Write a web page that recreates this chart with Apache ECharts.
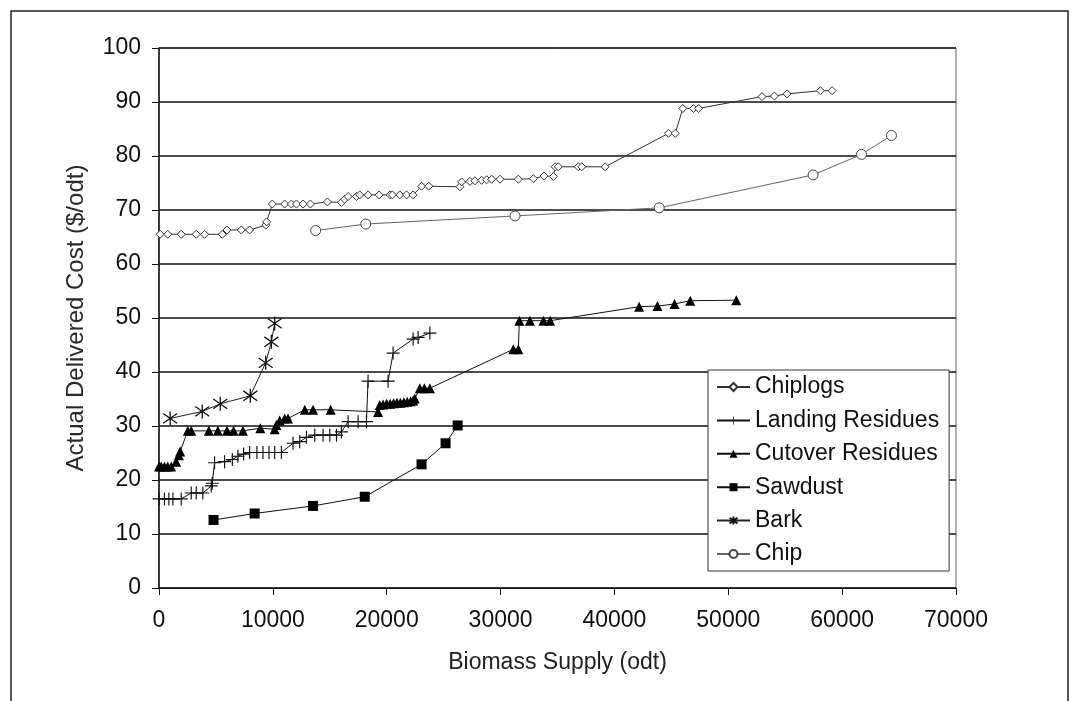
<!DOCTYPE html>
<html>
<head>
<meta charset="utf-8">
<script src="https://cdn.jsdelivr.net/npm/echarts@6/dist/echarts.min.js"></script>
<style>
  html, body { margin: 0; padding: 0; background: #fff; }
  #chart { width: 1078px; height: 701px; }
</style>
</head>
<body>
<div id="chart"></div>
<script>
// supply (odt) and delivered cost ($/odt) per source
var chiplogsX = [100, 770, 1950, 3270, 4000, 5560, 5970, 7230, 7960, 9380, 9450, 9950, 11040, 11630, 12070, 12650, 13300,
  14790, 16020, 16300, 16610, 17340, 17630, 18360, 19330, 20300, 20500, 21150, 21740, 22320, 23060, 23700,
  26430, 26580, 27310, 27750, 28340, 28780, 29220, 29950, 31560, 32880, 33820, 34640, 34790, 35070,
  36830, 37130, 39180, 44750, 45340, 46010, 46950, 47390, 52960, 54050, 55160, 58090, 59120];
var chiplogsY = [65.5, 65.5, 65.5, 65.5, 65.5, 65.5, 66.3, 66.3, 66.3, 67.2, 67.8, 71.1, 71.1, 71.1, 71.1, 71.1, 71.1,
  71.5, 71.4, 72.0, 72.5, 72.5, 72.8, 72.8, 72.8, 72.8, 72.8, 72.8, 72.8, 72.8, 74.4, 74.4,
  74.3, 75.2, 75.3, 75.4, 75.5, 75.6, 75.7, 75.7, 75.7, 75.8, 76.3, 76.2, 78.0, 78.0,
  78.0, 78.0, 78.0, 84.2, 84.2, 88.8, 88.8, 88.8, 91.0, 91.1, 91.5, 92.1, 92.1];

var landingX = [0, 480, 870, 1220, 1950, 2830, 3270, 3850, 4590, 4680, 4880, 5760, 6440, 6930, 7430, 7960, 8600,
  9130, 9660, 10160, 10750, 11770, 12360, 12950, 13680, 14410, 15000, 15590, 16020, 16610, 17490, 18220,
  18360, 20120, 20560, 22320, 22760, 23790];
var landingY = [16.5, 16.5, 16.5, 16.5, 16.5, 17.6, 17.6, 17.6, 18.9, 19.4, 23.2, 23.4, 23.8, 24.4, 24.8, 25.1, 25.1,
  25.1, 25.1, 25.1, 25.1, 26.8, 27.1, 27.9, 28.3, 28.3, 28.3, 28.3, 28.9, 30.8, 30.8, 30.8,
  38.3, 38.3, 43.5, 46.1, 46.4, 47.2];

var cutoverX = [0, 190, 480, 770, 1070, 1510, 1740, 1860, 2530, 2830, 4380, 5170, 5970, 6550, 7370, 8900, 10160,
  10310, 10600, 11040, 11330, 12800, 13530, 15080, 19240, 19390, 19680, 20000, 20300, 20600, 20900, 21200,
  21500, 21800, 22100, 22320, 22470, 22910, 23300, 23790, 31120, 31560, 31650, 32580, 33760, 34350,
  42170, 43780, 45280, 46660, 50700];
var cutoverY = [22.5, 22.5, 22.5, 22.5, 22.5, 23.4, 24.6, 25.3, 29.1, 29.1, 29.1, 29.1, 29.1, 29.1, 29.1, 29.6, 29.4,
  30.2, 31.0, 31.4, 31.4, 33.0, 33.0, 33.0, 32.6, 33.9, 34.0, 34.1, 34.1, 34.2, 34.3, 34.3,
  34.4, 34.5, 34.6, 34.7, 35.1, 37.0, 37.0, 37.0, 44.2, 44.2, 49.5, 49.5, 49.5, 49.5,
  52.1, 52.2, 52.6, 53.2, 53.3];

var sawdustX = [4790, 8400, 13530, 18070, 23060, 25170, 26230];
var sawdustY = [12.6, 13.8, 15.2, 16.9, 22.9, 26.8, 30.1];

var barkX = [980, 3800, 5380, 8020, 9370, 9870, 10160];
var barkY = [31.4, 32.7, 34.1, 35.6, 41.7, 45.6, 49.0];

var chipX = [13760, 18160, 31270, 43930, 57450, 61700, 64330];
var chipY = [66.2, 67.4, 68.9, 70.4, 76.5, 80.3, 83.8];

var seriesNames = ['Chiplogs', 'Landing Residues', 'Cutover Residues', 'Sawdust', 'Bark', 'Chip'];

function pairs(xs, ys) {
  return xs.map(function (x, i) { return [x, ys[i]]; });
}

var FONT = 'Liberation Sans, Arial, sans-serif';
var plusPath = 'path://M-0.09,-1H0.09V-0.09H1V0.09H0.09V1H-0.09V0.09H-1V-0.09H-0.09Z';
var starPath = 'path://M0,-1L0,1M-0.8,-0.7L0.8,0.7M-0.8,0.7L0.8,-0.7';

var myChart = echarts.init(document.getElementById('chart'));
var option = {
  animation: false,
  backgroundColor: '#fff',
  textStyle: { fontFamily: FONT },
  graphic: [{
    type: 'rect',
    z: -1,
    shape: { x: 11, y: 11, width: 1057, height: 720 },
    style: { fill: 'none', stroke: '#222', lineWidth: 1.5 }
  }],
  grid: {
    left: 159, right: 122, top: 48, bottom: 113,
    show: true, borderColor: '#666', borderWidth: 1
  },
  legend: {
    orient: 'vertical',
    left: 708, top: 370,
    padding: [5, 10, 5, 8],
    itemWidth: 33, itemHeight: 10, itemGap: 9.4,
    backgroundColor: '#fff',
    borderColor: '#333', borderWidth: 1, borderRadius: 0,
    textStyle: { fontSize: 23, color: '#111', lineHeight: 24, fontFamily: FONT },
    data: seriesNames
  },
  xAxis: {
    type: 'value',
    min: 0, max: 70000, interval: 10000,
    name: 'Biomass Supply (odt)',
    nameLocation: 'middle', nameGap: 63,
    nameTextStyle: { fontSize: 23, color: '#222' },
    axisLine: { onZero: false, lineStyle: { color: '#111', width: 1.2 } },
    axisTick: { show: true, length: 7, lineStyle: { color: '#111' } },
    axisLabel: { fontSize: 23, color: '#111', margin: 21, formatter: function (v) { return String(v); } },
    splitLine: { show: false }
  },
  yAxis: {
    type: 'value',
    min: 0, max: 100, interval: 10,
    name: 'Actual Delivered Cost ($/odt)',
    nameLocation: 'middle', nameGap: 71,
    nameTextStyle: { fontSize: 24, color: '#2a2a2a' },
    axisLine: { show: true, lineStyle: { color: '#111', width: 1.5 } },
    axisTick: { show: true, length: 7, lineStyle: { color: '#111' } },
    axisLabel: { fontSize: 23, color: '#111', margin: 18 },
    splitLine: { show: true, lineStyle: { color: '#111', width: 1.5 } }
  },
  series: [
    {
      name: 'Chiplogs', type: 'line',
      data: pairs(chiplogsX, chiplogsY),
      symbol: 'diamond', symbolSize: 8,
      lineStyle: { color: '#333', width: 1 },
      itemStyle: { color: '#fff', borderColor: '#333', borderWidth: 1 }
    },
    {
      name: 'Landing Residues', type: 'line',
      data: pairs(landingX, landingY),
      symbol: plusPath, symbolSize: 13,
      lineStyle: { color: '#111', width: 1 },
      itemStyle: { color: '#111' }
    },
    {
      name: 'Cutover Residues', type: 'line',
      data: pairs(cutoverX, cutoverY),
      symbol: 'triangle', symbolSize: 10,
      lineStyle: { color: '#111', width: 1 },
      itemStyle: { color: '#000' }
    },
    {
      name: 'Sawdust', type: 'line',
      data: pairs(sawdustX, sawdustY),
      symbol: 'rect', symbolSize: 10,
      lineStyle: { color: '#111', width: 1 },
      itemStyle: { color: '#000' }
    },
    {
      name: 'Bark', type: 'line',
      data: pairs(barkX, barkY),
      symbol: starPath, symbolSize: 14,
      lineStyle: { color: '#222', width: 1 },
      itemStyle: { color: '#111', borderColor: '#111', borderWidth: 1.3 }
    },
    {
      name: 'Chip', type: 'line',
      data: pairs(chipX, chipY),
      symbol: 'circle', symbolSize: 10,
      lineStyle: { color: '#666', width: 1 },
      itemStyle: { color: '#fff', borderColor: '#444', borderWidth: 1 }
    }
  ]
};
myChart.setOption(option);
</script>
</body>
</html>
